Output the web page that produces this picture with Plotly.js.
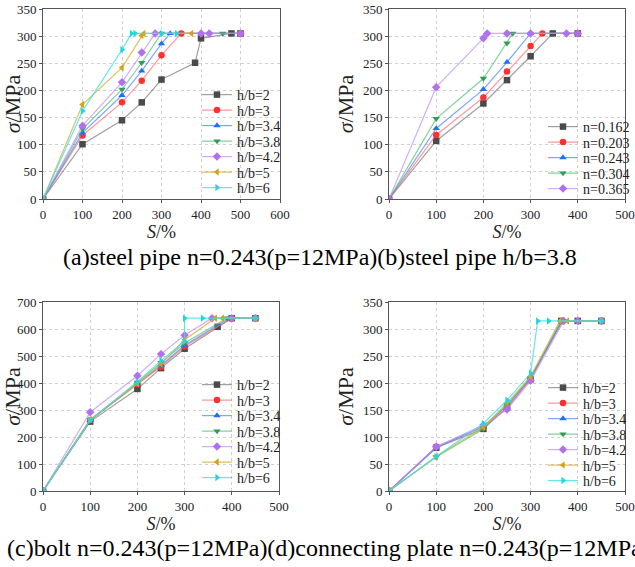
<!DOCTYPE html>
<html><head><meta charset="utf-8">
<script src="https://cdn.plot.ly/plotly-3.0.1.min.js"></script>
<style>html,body{margin:0;padding:0;background:#fff}#chart{width:635px;height:567px}</style>
</head><body><div id="chart"></div>
<script>
// ---- Legend labels ----
const labelsHB = ["h/b=2","h/b=3","h/b=3.4","h/b=3.8","h/b=4.2","h/b=5","h/b=6"];
const labelsN = ["n=0.162","n=0.203","n=0.243","n=0.304","n=0.365"];
const captionTop = "(a)steel pipe n=0.243(p=12MPa)(b)steel pipe h/b=3.8";
const captionBottom = "(c)bolt n=0.243(p=12MPa)(d)connecting plate n=0.243(p=12MPa)";

// ---- (a) steel pipe, varying h/b ----
const a_x_hb2  = [0,100,200,250,300,385,400,477,500];
const a_y_hb2  = [0,101,145,178,220,251,296,305,305];
const a_x_hb3  = [0,100,200,250,300,350,500];
const a_y_hb3  = [0,117,178,218,265,305,305];
const a_x_hb34 = [0,100,200,250,300,322,500];
const a_y_hb34 = [0,122,191,236,286,305,305];
const a_x_hb38 = [0,100,200,250,300,455,500];
const a_y_hb38 = [0,129,202,251,305,305,305];
const a_x_hb42 = [0,100,200,250,284,400,421,500];
const a_y_hb42 = [0,135,215,270,305,305,305,305];
const a_x_hb5  = [0,100,200,250,255,376];
const a_y_hb5  = [0,174,242,301,305,305];
const a_x_hb6  = [0,100,200,224,233,300,338];
const a_y_hb6  = [0,162,275,305,305,305,305];

// ---- (b) steel pipe h/b=3.8, varying n ----
const b_x_n162 = [0,100,200,250,300,347,400];
const b_y_n162 = [0,107,176,219,263,305,305];
const b_x_n203 = [0,100,200,250,300,325,400];
const b_y_n203 = [0,118,187,235,282,305,305];
const b_x_n243 = [0,100,200,250,300,400];
const b_y_n243 = [0,130,202,252,305,305];
const b_x_n304 = [0,100,200,250,262,400];
const b_y_n304 = [0,148,222,287,305,305];
const b_x_n365 = [0,100,200,208,250,300,376,400];
const b_y_n365 = [0,206,296,305,305,305,305,305];

// ---- (c) bolt ----
const c_x_hb2  = [0,100,200,250,300,370,400,450];
const c_y_hb2  = [0,257,378,455,527,608,640,640];
const c_x_hb3  = [0,100,200,250,300,400,450];
const c_y_hb3  = [0,262,395,460,535,640,640];
const c_x_hb34 = [0,100,200,250,300,395,450];
const c_y_hb34 = [0,263,398,465,540,640,640];
const c_x_hb38 = [0,100,200,250,300,390,450];
const c_y_hb38 = [0,263,402,475,548,640,640];
const c_x_hb42 = [0,100,200,250,300,358,400,450];
const c_y_hb42 = [0,292,427,507,577,640,640,640];
const c_x_hb5  = [0,100,200,250,300,365,380,450];
const c_y_hb5  = [0,265,397,470,560,640,640,640];
const c_x_hb6  = [0,100,200,250,300,300,338,450];
const c_y_hb6  = [0,262,405,483,555,640,640,640];

// ---- (d) connecting plate ----
const d_x_hb2  = [0,100,200,250,300,365,400,450];
const d_y_hb2  = [0,80,115,155,207,315,315,315];
const d_x_hb3  = [0,100,200,250,300,368,450];
const d_y_hb3  = [0,82,118,153,208,315,315];
const d_x_hb34 = [0,100,200,250,300,367,400,450];
const d_y_hb34 = [0,80,120,158,210,315,315,315];
const d_x_hb38 = [0,100,200,250,300,365,450];
const d_y_hb38 = [0,63,115,160,210,315,315];
const d_x_hb42 = [0,100,200,250,300,370,400,450];
const d_y_hb42 = [0,82,122,151,204,315,315,315];
const d_x_hb5  = [0,100,200,250,300,362,378,450];
const d_y_hb5  = [0,64,118,163,212,315,315,315];
const d_x_hb6  = [0,100,200,250,300,315,338,450];
const d_y_hb6  = [0,64,125,168,218,315,315,315];

// ---- styles ----
const markerCols = ["#4a4a4a","#ff3030","#1f6fff","#2e9e55","#b070f0","#d4a20c","#20d8e0"];
const lineCols = ["rgba(120,120,120,0.7)","rgba(255,110,110,0.7)","rgba(70,130,255,0.7)","rgba(80,190,120,0.7)","rgba(190,140,245,0.7)","rgba(215,175,60,0.8)","rgba(60,225,230,0.8)"];
const symbols = ["square","circle","triangle-up","triangle-down","diamond","triangle-left","triangle-right"];

const serif = "Liberation Serif";
const W = 635, H = 567;
const traces = [];
const legends = {};
let legCount = 0;
function add(xs, ys, name, i, xa, ya, lx, ly) {
  legCount++;
  const id = legCount === 1 ? "legend" : "legend" + legCount;
  legends[id] = {x: lx/W, y: 1-ly/H, xanchor: "left", yanchor: "middle",
    bgcolor: "rgba(0,0,0,0)", borderwidth: 0,
    font: {family: serif, size: 14, color: "#222"}, itemwidth: 30};
  traces.push({x: xs, y: ys, name: name, type: "scatter", mode: "lines+markers",
    xaxis: xa, yaxis: ya, legend: id,
    line: {color: lineCols[i], width: 1.2},
    marker: {color: markerCols[i], symbol: symbols[i], size: 6.5}});
}
const aX = [a_x_hb2,a_x_hb3,a_x_hb34,a_x_hb38,a_x_hb42,a_x_hb5,a_x_hb6];
const aY = [a_y_hb2,a_y_hb3,a_y_hb34,a_y_hb38,a_y_hb42,a_y_hb5,a_y_hb6];
const bX = [b_x_n162,b_x_n203,b_x_n243,b_x_n304,b_x_n365];
const bY = [b_y_n162,b_y_n203,b_y_n243,b_y_n304,b_y_n365];
const cX = [c_x_hb2,c_x_hb3,c_x_hb34,c_x_hb38,c_x_hb42,c_x_hb5,c_x_hb6];
const cY = [c_y_hb2,c_y_hb3,c_y_hb34,c_y_hb38,c_y_hb42,c_y_hb5,c_y_hb6];
const dX = [d_x_hb2,d_x_hb3,d_x_hb34,d_x_hb38,d_x_hb42,d_x_hb5,d_x_hb6];
const dY = [d_y_hb2,d_y_hb3,d_y_hb34,d_y_hb38,d_y_hb42,d_y_hb5,d_y_hb6];
const legStep = 15.5;
labelsHB.forEach((n,i)=>add(aX[i],aY[i],n,i,"x","y",197,95+i*legStep));
labelsN.forEach((n,i)=>add(bX[i],bY[i],n,i,"x2","y2",543,127+i*legStep));
labelsHB.forEach((n,i)=>add(cX[i],cY[i],n,i,"x3","y3",197,385+i*legStep));
labelsHB.forEach((n,i)=>add(dX[i],dY[i],n,i,"x4","y4",543,388+i*legStep));

function xd(l, r) { return [l/W, r/W]; }
function yd(t, b) { return [1-b/H, 1-t/H]; }
function xax(dom, rng, anchor) {
  return {domain: dom, range: rng, dtick: 100, anchor: anchor,
    showline: true, mirror: true, linecolor: "#555", linewidth: 1,
    ticks: "outside", ticklen: 3, tickcolor: "#555",
    showgrid: true, gridcolor: "#d0d0d0", griddash: "dot", zeroline: false,
    tickfont: {family: serif, size: 13, color: "#222"},
    title: {text: "<i>S</i>/%", font: {family: serif, size: 18, color: "#222"}, standoff: 2}};
}
function yax(dom, rng, dt, anchor) {
  return {domain: dom, range: rng, dtick: dt, anchor: anchor,
    showline: true, mirror: true, linecolor: "#555", linewidth: 1,
    ticks: "outside", ticklen: 3, tickcolor: "#555",
    showgrid: true, gridcolor: "#d0d0d0", griddash: "dot", zeroline: false,
    tickfont: {family: serif, size: 13, color: "#222"},
    title: {text: "<i>σ</i>/MPa", font: {family: serif, size: 22, color: "#222"}, standoff: 3}};
}
const layout = Object.assign({
  width: W, height: H, margin: {l: 0, r: 0, t: 0, b: 0},
  paper_bgcolor: "#fff", plot_bgcolor: "#fff", showlegend: true,
  font: {family: serif},
  xaxis: xax(xd(43,280), [0,600], "y"),
  yaxis: yax(yd(9,199), [0,350], 50, "x"),
  xaxis2: xax(xd(389,625), [0,500], "y2"),
  yaxis2: yax(yd(9,199), [0,350], 50, "x2"),
  xaxis3: xax(xd(43,279), [0,500], "y3"),
  yaxis3: yax(yd(302,491), [0,700], 100, "x3"),
  xaxis4: xax(xd(389,625), [0,500], "y4"),
  yaxis4: yax(yd(302,491), [0,350], 50, "x4"),
  annotations: [
    {text: captionTop, x: 320/W, y: 1-257/H, xref: "paper", yref: "paper", xanchor: "center", yanchor: "middle", showarrow: false, font: {family: serif, size: 24, color: "#000"}},
    {text: captionBottom, x: 5/W, y: 1-548/H, xref: "paper", yref: "paper", xanchor: "left", yanchor: "middle", showarrow: false, font: {family: serif, size: 24, color: "#000"}}
  ]
}, legends);
Plotly.newPlot("chart", traces, layout, {displayModeBar: false, staticPlot: true});
</script></body></html>
